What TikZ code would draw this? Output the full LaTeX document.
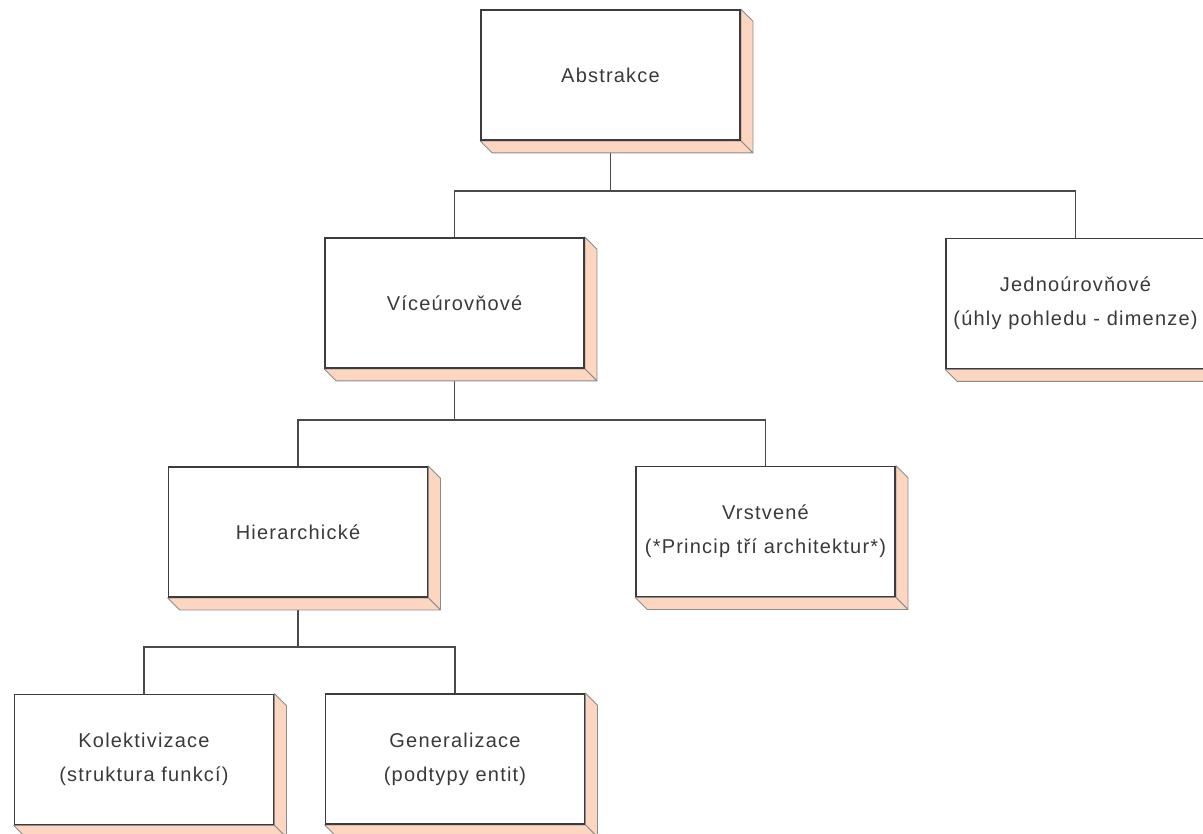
\documentclass[tikz,border=0pt]{standalone}
\usepackage{fontspec}
\setmainfont{Liberation Sans}[LetterSpace=6]
\usetikzlibrary{calc}
\definecolor{frameline}{HTML}{3C3C3C}
\definecolor{linkline}{HTML}{4A4A4A}
\definecolor{slabface}{HTML}{FDD6C1}
\definecolor{slabedge}{HTML}{8C8C8C}
\definecolor{labeltext}{HTML}{3A3A3A}
\pgfdeclarelayer{links}
\pgfdeclarelayer{faces}
\pgfsetlayers{links,faces,main}
\tikzset{
  block/.style={rectangle, draw=frameline, fill=white, line width=1.8pt,
    minimum width=259pt, minimum height=130pt, inner sep=0pt,
    align=center, text=labeltext,
    font=\fontsize{20}{34}\selectfont},
  link/.style={draw=linkline, line width=1.8pt},
  face/.style={fill=slabface, draw=slabedge, line width=0.8pt, line join=round}
}
% side and bottom faces of a raised block
\newcommand{\slabfaces}[1]{%
  \begin{pgfonlayer}{faces}
    \path[face] (#1.north east) -- ($(#1.north east)+(12,12)$)
      -- ($(#1.south east)+(12,12)$) -- (#1.south east) -- cycle;
    \path[face] (#1.south west) -- (#1.south east)
      -- ($(#1.south east)+(12,12)$) -- ($(#1.south west)+(12,12)$) -- cycle;
  \end{pgfonlayer}}
\begin{document}
\begin{tikzpicture}[x=1pt, y=-1pt]
\useasboundingbox (0,0) rectangle (1203,834);

\node[block] (abs) at (610.5,75) {Abstrakce};
\node[block] (vice) at (454.5,303) {Víceúrovňové};
\node[block] (jedno) at (1075.5,303.5) {Jednoúrovňové\\(úhly pohledu - dimenze)};
\node[block] (hier) at (298,532) {Hierarchické};
\node[block] (vrst) at (765.5,531.5) {Vrstvené\\(*Princip tří architektur*)};
\node[block] (kol) at (144,759.5) {Kolektivizace\\(struktura funkcí)};
\node[block] (gen) at (455,759) {Generalizace\\(podtypy entit)};

\foreach \b in {abs,vice,jedno,hier,vrst,kol,gen} {\slabfaces{\b}}

\begin{pgfonlayer}{links}
  \draw[link] (abs.south) -- ++(0,50) coordinate (busA);
  \draw[link] (busA) -| (vice.north);
  \draw[link] (busA) -| (jedno.north);
  \draw[link] (vice.south) -- ++(0,51) coordinate (busV);
  \draw[link] (busV) -| (hier.north);
  \draw[link] (busV) -| (vrst.north);
  \draw[link] (hier.south) -- ++(0,49) coordinate (busH);
  \draw[link] (busH) -| (kol.north);
  \draw[link] (busH) -| (gen.north);
\end{pgfonlayer}
\end{tikzpicture}
\end{document}
